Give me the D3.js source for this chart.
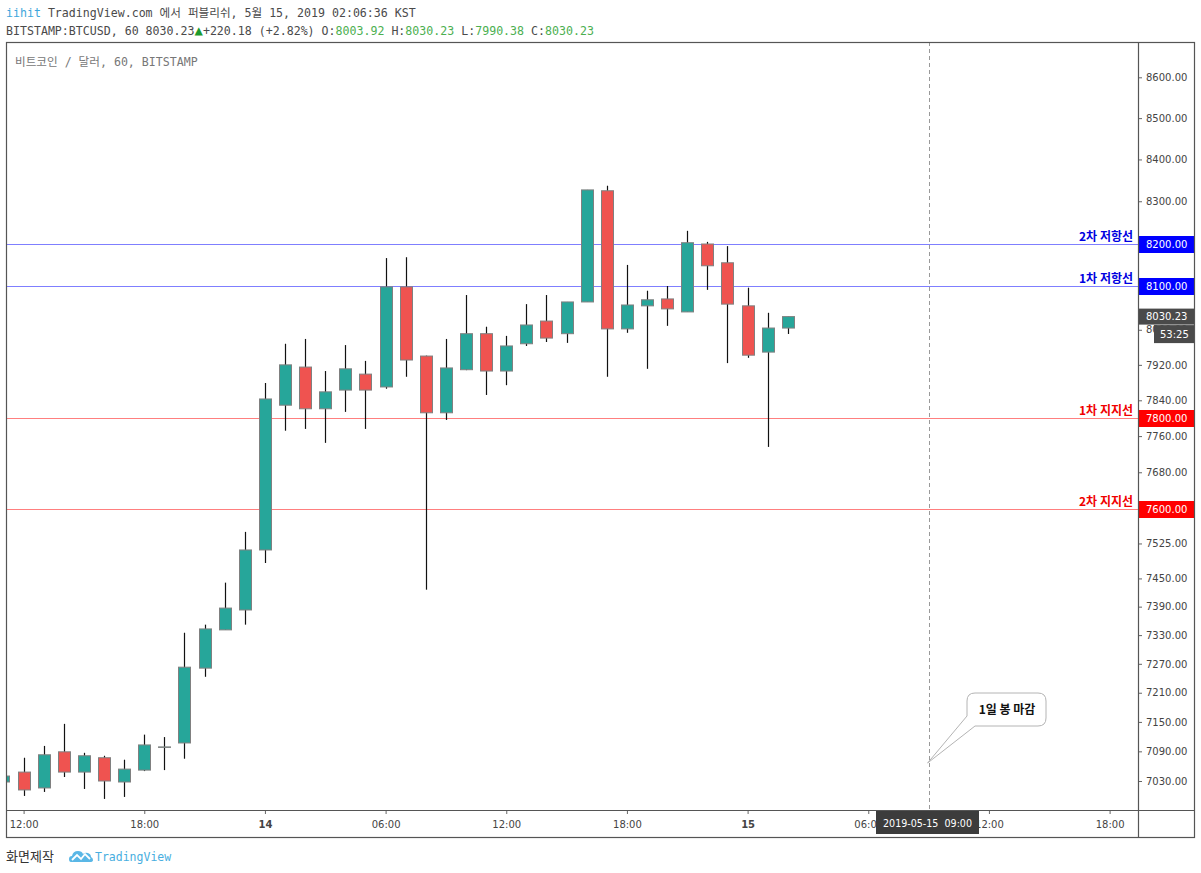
<!DOCTYPE html>
<html>
<head>
<meta charset="utf-8">
<script src="https://cdnjs.cloudflare.com/ajax/libs/d3/7.8.5/d3.min.js"></script>
<style>
body { margin: 0; background: #fff; }
svg text { font-family: "DejaVu Sans", sans-serif; }
.mono { font-family: "DejaVu Sans Mono", "Noto Sans CJK KR", monospace; }
.kr { font-family: "Noto Sans CJK KR", "DejaVu Sans", sans-serif; }
</style>
</head>
<body>
<div id="chart"></div>
<script>
// hourly candles, first one is 2019-05-13 11:00 (KST shown as UTC)
var firstHour = Date.UTC(2019, 4, 13, 11);
var opens  = [7028,7048,7016,7089,7048,7077,7028,7052,7098,7107,7261,7341,7383,7511,7829,7915,7821,7863,7899,7870,
              8099,7940,7812,7909,7991,7906,7968,8020,7991,8064,8325,8002,8055,8071,8041,8199,8155,8055,7949,8003.92];
var highs  = [7043,7077,7101,7146,7087,7081,7073,7124,7119,7335,7352,7441,7550,7879,7968,7979,7906,7965,7929,8166,
              8168,7941,7979,8080,8007,7986,8059,8080,8064,8327,8337,8150,8090,8101,8230,8204,8194,8097,8039,8030.23];
var lows   = [7025,7000,7008,7038,7014,6994,6998,7050,7052,7075,7243,7341,7352,7483,7772,7776,7745,7814,7776,7866,
              7893,7426,7796,7908,7852,7874,7963,7972,7970,8064,7893,7993,7911,8009,8041,8092,7924,7936,7736,7990.38];
var closes = [7040,7012,7083,7048,7081,7030,7054,7103,7099,7263,7343,7387,7511,7843,7920,7821,7859,7911,7863,8099,
              7931,7812,7913,7991,7906,7963,8011,7981,8064,8327,8002,8057,8069,8048,8202,8148,8059,7942,8004,8030.23];

var priceTicks = [8600,8500,8400,8300,8200,8100,8000,7920,7840,7760,7680,7600,7525,7450,7390,7330,7270,7210,7150,7090,7030];
var levels = [8200, 8100, 7800, 7600];
var levelNames = ['2차 저항선', '1차 저항선', '1차 지지선', '2차 지지선'];
var levelKinds = ['res', 'res', 'sup', 'sup'];
var lastPrice = 8030.23;
var countdown = '53:25';
var markTime = Date.UTC(2019, 4, 15, 9);
var noteText = '1일 봉 마감';

var W = 1201, H = 873;
var pL = 6, pR = 1138, pT = 42, pB = 810, outR = 1194, outB = 837;

var svg = d3.select('#chart').append('svg')
    .attr('width', W).attr('height', H)
    .style('display', 'block');
svg.append('rect').attr('width', W).attr('height', H).attr('fill', '#fff');

var x = d3.scaleUtc()
    .domain([Date.UTC(2019, 4, 13, 12), Date.UTC(2019, 4, 15, 18)])
    .range([23.6, 1109.6]);
var y = d3.scaleLog()
    .domain([8600, 7030])
    .range([77.3, 781]);

var candles = opens.map(function (o, i) {
    return { t: firstHour + i * 3600000, o: o, h: highs[i], l: lows[i], c: closes[i] };
});

// header
var head1 = svg.append('text').attr('class', 'mono').attr('x', 6).attr('y', 17)
    .style('font-size', '11.6px').attr('fill', '#4a4a4a');
head1.append('tspan').attr('fill', '#3fa7dc').text('iihit');
head1.append('tspan').text(' TradingView.com 에서 퍼블리쉬, 5월 15, 2019 02:06:36 KST');

var green = '#4caf50';
var head2 = svg.append('text').attr('class', 'mono').attr('x', 6).attr('y', 35)
    .style('font-size', '11.6px').attr('fill', '#4a4a4a').attr('xml:space', 'preserve');
head2.append('tspan').text('BITSTAMP:BTCUSD, 60 8030.23');
head2.append('tspan').attr('fill', '#1c9a2c').style('font-size', '14px').text('▲');
head2.append('tspan').text('+220.18 (+2.82%) O:');
head2.append('tspan').attr('fill', green).text('8003.92');
head2.append('tspan').text(' H:');
head2.append('tspan').attr('fill', green).text('8030.23');
head2.append('tspan').text(' L:');
head2.append('tspan').attr('fill', green).text('7990.38');
head2.append('tspan').text(' C:');
head2.append('tspan').attr('fill', green).text('8030.23');

// plot clip
svg.append('clipPath').attr('id', 'plotClip')
    .append('rect').attr('x', pL).attr('y', pT).attr('width', pR - pL).attr('height', pB - pT);
var plot = svg.append('g').attr('clip-path', 'url(#plotClip)');

plot.append('text').attr('class', 'mono').attr('x', 15).attr('y', 66)
    .style('font-size', '11.6px').attr('fill', '#777').text('비트코인 / 달러, 60, BITSTAMP');

// level lines
levels.forEach(function (v, i) {
    var col = levelKinds[i] === 'res' ? '#7f7fff' : '#ff7f7f';
    plot.append('line').attr('x1', pL).attr('x2', pR)
        .attr('y1', Math.round(y(v)) + 0.5).attr('y2', Math.round(y(v)) + 0.5)
        .attr('stroke', col).attr('stroke-width', 1);
});

// crosshair vertical
plot.append('line').attr('x1', Math.round(x(markTime)) + 0.5).attr('x2', Math.round(x(markTime)) + 0.5)
    .attr('y1', pT).attr('y2', pB)
    .attr('stroke', '#999').attr('stroke-dasharray', '4,3');

// candles
var bw = 12;
var cg = plot.selectAll('g.candle').data(candles).enter().append('g').attr('class', 'candle');
cg.append('line')
    .attr('x1', function (d) { return Math.round(x(d.t)) + 0.5; })
    .attr('x2', function (d) { return Math.round(x(d.t)) + 0.5; })
    .attr('y1', function (d) { return y(d.h); })
    .attr('y2', function (d) { return y(d.l); })
    .attr('stroke', '#111').attr('stroke-width', 1.2);
cg.append('rect')
    .attr('x', function (d) { return Math.round(x(d.t)) + 0.5 - bw / 2; })
    .attr('width', bw)
    .attr('y', function (d) { return y(Math.max(d.o, d.c)); })
    .attr('height', function (d) { return Math.max(0.5, y(Math.min(d.o, d.c)) - y(Math.max(d.o, d.c))); })
    .attr('fill', function (d) { return d.c >= d.o ? '#26a69a' : '#ef5350'; })
    .attr('stroke', '#808080').attr('stroke-width', 1);

// level names
levels.forEach(function (v, i) {
    plot.append('text').attr('class', 'kr')
        .attr('x', 1133).attr('y', Math.round(y(v)) - 3)
        .attr('text-anchor', 'end')
        .style('font-size', '12px').style('font-weight', 'bold')
        .attr('fill', levelKinds[i] === 'res' ? '#0000e0' : '#f00000')
        .text(levelNames[i]);
});

// callout
var tip = [x(markTime) - 1, 763];
plot.append('path')
    .attr('d', 'M975,726 H1038 Q1046,726 1046,718 V701 Q1046,693 1038,693 H975 Q967,693 967,701 V716 L' + tip[0] + ',' + tip[1] + ' Z')
    .attr('fill', '#fff').attr('stroke', '#b4b4b4').attr('stroke-width', 1);
plot.append('text').attr('class', 'kr').attr('x', 1007).attr('y', 714)
    .attr('text-anchor', 'middle').style('font-size', '12px').style('font-weight', 'bold')
    .attr('fill', '#111').text(noteText);

// price axis
var yAxis = d3.axisRight(y).tickValues(priceTicks).tickFormat(d3.format('.2f')).tickSize(4).tickPadding(4);
var ya = svg.append('g').attr('transform', 'translate(' + pR + ',0)').call(yAxis);
ya.select('.domain').remove();
ya.selectAll('.tick line').attr('stroke', '#666');
ya.selectAll('.tick text').style('font-size', '10px').style('font-family', '"DejaVu Sans", sans-serif').attr('fill', '#444');

// time axis
var xAxis = d3.axisBottom(x).ticks(d3.utcHour.every(6)).tickSize(4).tickPadding(7)
    .tickFormat(function (d) { return d.getUTCHours() === 0 ? d3.utcFormat('%-d')(d) : d3.utcFormat('%H:%M')(d); });
var xa = svg.append('g').attr('transform', 'translate(0,' + pB + ')').call(xAxis);
xa.select('.domain').remove();
xa.selectAll('.tick line').attr('stroke', '#666');
xa.selectAll('.tick text').style('font-size', '10px').style('font-family', '"DejaVu Sans", sans-serif')
    .attr('fill', '#444')
    .style('font-weight', function (d) { return d.getUTCHours() === 0 ? 'bold' : 'normal'; });

// level price boxes
levels.forEach(function (v, i) {
    var yy = Math.round(y(v)) + 0.5;
    svg.append('rect').attr('x', pR).attr('y', yy - 8.5).attr('width', outR - pR).attr('height', 17)
        .attr('fill', levelKinds[i] === 'res' ? '#0000ff' : '#ff0000');
    svg.append('text').attr('x', pR + 8).attr('y', yy + 3.8)
        .style('font-size', '10px').attr('fill', '#fff').text(d3.format('.2f')(v));
});

// last price + countdown
var ly = y(lastPrice);
svg.append('rect').attr('x', pR).attr('y', ly - 8).attr('width', outR - pR).attr('height', 16).attr('fill', '#4a4a4a');
svg.append('text').attr('x', pR + 8).attr('y', ly + 3.8).style('font-size', '10px').attr('fill', '#fff')
    .text(d3.format('.2f')(lastPrice));
svg.append('rect').attr('x', 1154).attr('y', ly + 8.5).attr('width', outR - 1154).attr('height', 18).attr('fill', '#4a4a4a');
svg.append('text').attr('x', 1160).attr('y', ly + 21.3).style('font-size', '10px').attr('fill', '#fff').text(countdown);

// time tooltip
svg.append('rect').attr('x', 876).attr('y', 811).attr('width', 103).attr('height', 23).attr('fill', '#3c3c3c');
svg.append('text').attr('x', 883).attr('y', 826.5)
    .style('font-size', '10px').attr('fill', '#fff').attr('xml:space', 'preserve')
    .attr('textLength', 89).attr('lengthAdjust', 'spacingAndGlyphs')
    .text(d3.utcFormat('%Y-%m-%d')(markTime) + '  ' + d3.utcFormat('%H:%M')(markTime));

// frame
var frame = svg.append('g').attr('fill', 'none').attr('stroke', '#555').attr('stroke-width', 1.2);
frame.append('rect').attr('x', pL + 0.5).attr('y', pT + 0.5).attr('width', outR - pL).attr('height', outB - pT);
frame.append('line').attr('x1', pR + 0.5).attr('x2', pR + 0.5).attr('y1', pT).attr('y2', outB);
frame.append('line').attr('x1', pL).attr('x2', outR).attr('y1', pB + 0.5).attr('y2', pB + 0.5);

// footer
svg.append('text').attr('class', 'kr').attr('x', 6).attr('y', 861).style('font-size', '13px')
    .attr('fill', '#333').text('화면제작');
var logo = svg.append('g').attr('transform', 'translate(69,848)');
logo.append('path')
    .attr('d', 'M2,14 Q0,14 0,11 Q0,8 3,8 Q4,3 9,3 Q13,3 14,6 Q16,4 19,5 Q22,6 22,9 Q24,10 24,12 Q24,14 21,14 Z')
    .attr('fill', '#5ab7e6');
logo.append('path').attr('d', 'M3,12 L8,7 L12,11 L16,6 L21,11')
    .attr('fill', 'none').attr('stroke', '#fff').attr('stroke-width', 1.8);
svg.append('text').attr('class', 'mono').attr('x', 95).attr('y', 861).style('font-size', '11.5px')
    .attr('fill', '#48aee0').text('TradingView');
</script>
</body>
</html>
